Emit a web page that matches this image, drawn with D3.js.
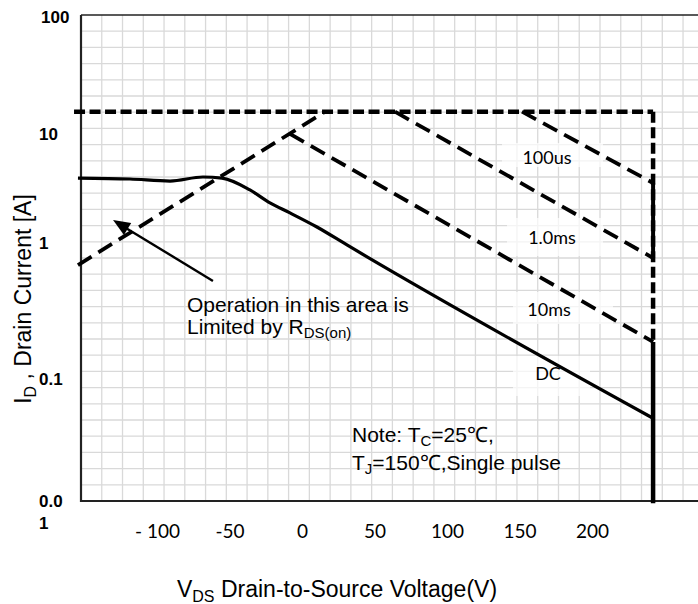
<!DOCTYPE html>
<html><head><meta charset="utf-8">
<script src="https://cdn.jsdelivr.net/npm/d3@7"></script>
<style>body{margin:0;background:#fff;} svg{display:block;}</style>
</head><body>
<svg id="chart" width="698" height="604"></svg>
<script>
// ---- data ----
const currentLimitX = [-157.2, 242.1];
const currentLimitY = [16, 16];
const rdsX = [-154.5, 15.9];
const rdsY = [0.875, 16];
const us100X = [151.7, 242.1];
const us100Y = [16, 4.14];
const ms1X = [64.1, 242.1];
const ms1Y = [16, 1.0];
const ms10X = [-8.3, 242.1];
const ms10Y = [10.5, 0.204];
const dcX = [-154.5, -118.6, -91.0, -68.3, -55.2, -35.9, -22.1, -8.3, 10.3, 31.0, 242.1];
const dcY = [4.55, 4.47, 4.30, 4.64, 4.55, 3.63, 2.84, 2.35, 1.80, 1.28, 0.048];
const voltageLimitX = 242.1;
const xTickValues = [-100, -50, 0, 50, 100, 150, 200];
const xTickLabels = ["- 100", "-50", "0", "50", "100", "150", "200"];
const yTickValues = [100, 10, 1, 0.1, 0.01];
const yTickLabels = ["100", "10", "1", "0.1", "0.0|1"];
const curveLabels = ["100us", "1.0ms", "10ms", "DC"];
const arrowX = [-61.4, -130.3];
const arrowY = [0.647, 2.05];

// ---- layout ----
const svg = d3.select("#chart");
const L = 81, T = 15, B = 501, R = 705;
const x = d3.scaleLinear().domain([-152.4, 277.9]).range([L, R]);
const y = d3.scaleLog().domain([0.01, 100]).range([B, T]);
const gx = d3.scaleLinear().domain([0, 30]).range([L, L + 30 * 20.76]);
const gy = d3.scaleLinear().domain([0, 30]).range([B, T]);

// grid
const grid = svg.append("g").attr("stroke", "#d9d9d9").attr("stroke-width", 1.3);
d3.range(1, 31).forEach(i => {
  grid.append("line").attr("x1", gx(i)).attr("x2", gx(i)).attr("y1", T).attr("y2", B);
});
d3.range(1, 30).forEach(j => {
  grid.append("line").attr("x1", L).attr("x2", 698).attr("y1", gy(j)).attr("y2", gy(j));
});

// label backgrounds (white boxes that hide the grid)
const boxes = [[502, 143, 101, 24], [507, 218, 96, 38], [513, 292, 100, 32], [513, 356, 77, 40]];
svg.append("g").selectAll("rect").data(boxes).join("rect")
  .attr("x", d => d[0]).attr("y", d => d[1]).attr("width", d => d[2]).attr("height", d => d[3])
  .attr("fill", "#fff").attr("opacity", 0.7);

// frame
svg.append("line").attr("x1", L).attr("x2", 698).attr("y1", T).attr("y2", T).attr("stroke", "#222").attr("stroke-width", 1.6);
svg.append("line").attr("x1", L).attr("x2", 698).attr("y1", B).attr("y2", B).attr("stroke", "#222").attr("stroke-width", 2.2);
svg.append("line").attr("x1", L).attr("x2", L).attr("y1", T).attr("y2", B + 1).attr("stroke", "#222").attr("stroke-width", 2.2);

const line = d3.line().x(d => x(d[0])).y(d => y(d[1]));
const pairs = (xs, ys) => xs.map((v, i) => [v, ys[i]]);

// current limit (horizontal dashed)
svg.append("path").attr("d", line(pairs(currentLimitX, currentLimitY)))
  .attr("fill", "none").attr("stroke", "#000").attr("stroke-width", 4.5).attr("stroke-dasharray", "11 4.5");

// diagonal dashed lines
[[rdsX, rdsY], [us100X, us100Y], [ms1X, ms1Y], [ms10X, ms10Y]].forEach(([xs, ys]) => {
  svg.append("path").attr("d", line(pairs(xs, ys)))
    .attr("fill", "none").attr("stroke", "#000").attr("stroke-width", 3.8).attr("stroke-dasharray", "16 8");
});

// voltage limit (vertical)
svg.append("path").attr("d", line([[voltageLimitX, 16], [voltageLimitX, ms10Y[1]]]))
  .attr("fill", "none").attr("stroke", "#000").attr("stroke-width", 4.5).attr("stroke-dasharray", "11 4.5");
svg.append("path").attr("d", line([[voltageLimitX, us100Y[1]], [voltageLimitX, ms1Y[1]]]))
  .attr("fill", "none").attr("stroke", "#000").attr("stroke-width", 4);
svg.append("path").attr("d", line([[voltageLimitX, ms10Y[1]], [voltageLimitX, 0.0096]]))
  .attr("fill", "none").attr("stroke", "#000").attr("stroke-width", 4.5);

// DC curve
svg.append("path").attr("d", d3.line().x(d => x(d[0])).y(d => y(d[1])).curve(d3.curveMonotoneX)(pairs(dcX, dcY)))
  .attr("fill", "none").attr("stroke", "#000").attr("stroke-width", 3.2).attr("stroke-linejoin", "round");

// arrow
const ax0 = x(arrowX[0]), ay0 = y(arrowY[0]), ax1 = x(arrowX[1]), ay1 = y(arrowY[1]);
const ang = Math.atan2(ay1 - ay0, ax1 - ax0);
const hl = 17, hw = 7;
const bx = ax1 - hl * Math.cos(ang), by = ay1 - hl * Math.sin(ang);
svg.append("line").attr("x1", ax0).attr("y1", ay0).attr("x2", bx + 3 * Math.cos(ang)).attr("y2", by + 3 * Math.sin(ang))
  .attr("stroke", "#000").attr("stroke-width", 2.4);
svg.append("path").attr("d", `M${ax1},${ay1}L${bx + hw * Math.sin(ang)},${by - hw * Math.cos(ang)}L${bx - hw * Math.sin(ang)},${by + hw * Math.cos(ang)}Z`)
  .attr("fill", "#000");

// curve labels
const labelPos = [[547, 157], [552, 237], [549, 309], [548, 373]];
svg.append("g").selectAll("text").data(curveLabels).join("text")
  .attr("x", (d, i) => labelPos[i][0]).attr("y", (d, i) => labelPos[i][1])
  .attr("text-anchor", "middle").attr("dominant-baseline", "central")
  .attr("font-family", "Lato, 'Open Sans', sans-serif").attr("font-size", 18).attr("fill", "#000")
  .text(d => d);

// annotations
const ann = svg.append("g").attr("font-family", "'Liberation Sans', Arial, sans-serif").attr("font-size", 21).attr("fill", "#000");
ann.append("text").attr("x", 187).attr("y", 312).text("Operation in this area is");
const t2 = ann.append("text").attr("x", 187).attr("y", 334);
t2.append("tspan").text("Limited by R");
t2.append("tspan").attr("font-size", 15).attr("dy", 4).text("DS(on)");
const n1 = ann.append("text").attr("x", 352).attr("y", 442);
n1.append("tspan").text("Note: T");
n1.append("tspan").attr("font-size", 15).attr("dy", 4).text("C");
n1.append("tspan").attr("dy", -4).text("=25℃,");
const n2 = ann.append("text").attr("x", 352).attr("y", 470);
n2.append("tspan").text("T");
n2.append("tspan").attr("font-size", 15).attr("dy", 4).text("J");
n2.append("tspan").attr("dy", -4).text("=150℃,Single pulse");

// y tick labels
const yl = svg.append("g").attr("font-family", "'Liberation Sans', Arial, sans-serif").attr("font-size", 17).attr("font-weight", "bold");
yTickValues.forEach((v, i) => {
  const parts = yTickLabels[i].split("|");
  const shift = v === 1 ? -15 : (v === 100 ? 2 : (v === 10 ? -2 : 0));
  parts.forEach((p, k) => {
    yl.append("text").attr("x", v === 100 ? 41 : 39).attr("y", y(v) + shift + k * 22)
      .attr("dominant-baseline", "central").text(p);
  });
});

// x axis tick labels
const xAxis = d3.axisBottom(x).tickValues(xTickValues).tickFormat((d, i) => xTickLabels[i]).tickSize(0).tickPadding(0);
const xg = svg.append("g").attr("transform", `translate(0,${B})`).call(xAxis);
xg.select(".domain").remove();
xg.selectAll("text").attr("font-family", "Lato, 'Open Sans', sans-serif").attr("font-size", 19)
  .attr("fill", "#000").attr("dy", null).attr("y", 29).attr("dominant-baseline", "central");

// axis titles
const yt = svg.append("text").attr("transform", "translate(31,299) rotate(-90)").attr("text-anchor", "middle")
  .attr("font-family", "'Liberation Sans', Arial, sans-serif").attr("font-size", 23).attr("fill", "#000");
yt.append("tspan").text("I");
yt.append("tspan").attr("font-size", 16).attr("dy", 5).text("D");
yt.append("tspan").attr("dy", -5).text(" , Drain Current [A]");

const xt = svg.append("text").attr("x", 337).attr("y", 597).attr("text-anchor", "middle")
  .attr("font-family", "'Liberation Sans', Arial, sans-serif").attr("font-size", 23).attr("fill", "#000");
xt.append("tspan").text("V");
xt.append("tspan").attr("font-size", 16).attr("dy", 5).text("DS");
xt.append("tspan").attr("dy", -5).text(" Drain-to-Source Voltage(V)");
</script>
</body></html>
